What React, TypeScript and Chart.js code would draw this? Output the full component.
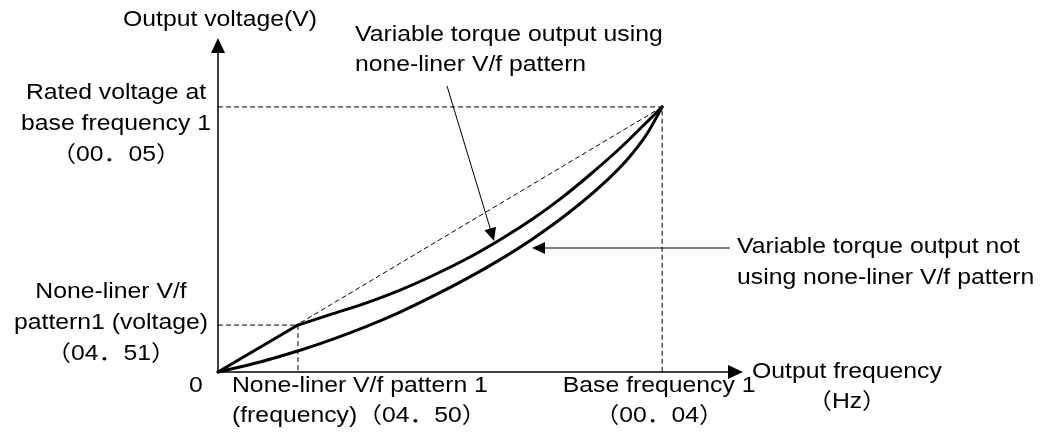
import React, { useEffect, useRef } from "react";
import { Chart, registerables } from "chart.js";

Chart.register(...registerables);

// Frequency (% of base frequency 1) and voltage (% of rated voltage)
const upperLinearFreq = [0, 18];
const upperLinearVolt = [0, 17.7];
const upperCurveFreq = [18, 25.9, 33.6, 41.0, 48.4, 56.1, 63.5, 70.9, 77.0, 83.8, 90.5, 95.7, 100];
const upperCurveVolt = [17.7, 22.0, 26.2, 30.9, 36.4, 42.8, 49.9, 57.8, 65.2, 74.5, 84.4, 92.9, 100];
const lowerFreq = [0, 9.5, 18.5, 25.9, 33.6, 41.0, 48.4, 56.1, 63.5, 70.9, 78.6, 86.0, 92.1, 96.6, 100];
const lowerVolt = [0, 3.8, 8.2, 12.4, 17.3, 22.6, 28.6, 35.3, 42.4, 50.3, 59.6, 69.9, 80.1, 89.9, 100];
const baseFreq = 100;
const ratedVolt = 100;
const nonlinearFreq = 18;
const nonlinearVolt = 17.7;
const xMax = 118.2;
const yMax = 126;

const yAxisTitle = "Output voltage(V)";
const xAxisTitle = ["Output frequency", "（Hz）"];
const ratedLabel = ["Rated voltage at", "base frequency 1", "（00．05）"];
const nlVoltLabel = ["None-liner V/f", "pattern1 (voltage)", "（04．51）"];
const nlFreqLabel = ["None-liner V/f pattern 1", "(frequency)（04．50）"];
const baseFreqLabel = ["Base frequency 1", "（00．04）"];
const originLabel = "0";
const usingLabel = ["Variable torque output using", "none-liner V/f pattern"];
const notUsingLabel = ["Variable torque output not", "using none-liner V/f pattern"];

const pts = (xs: number[], ys: number[]) => xs.map((x, i) => ({ x, y: ys[i] }));

const FONT = "22px 'Liberation Sans', Arial, 'Noto Sans CJK SC', sans-serif";
const SX = 1.125;

function drawText(ctx: CanvasRenderingContext2D, text: string, x: number, y: number, align: CanvasTextAlign) {
  ctx.save();
  ctx.translate(x, y);
  ctx.scale(SX, 1);
  ctx.textAlign = align;
  ctx.textBaseline = "alphabetic";
  ctx.fillText(text, 0, 0);
  ctx.restore();
}

function arrowHead(ctx: CanvasRenderingContext2D, tx: number, ty: number, fx: number, fy: number, len: number, half: number) {
  const dx = tx - fx, dy = ty - fy;
  const d = Math.hypot(dx, dy);
  const ux = dx / d, uy = dy / d;
  const bx = tx - ux * len, by = ty - uy * len;
  ctx.beginPath();
  ctx.moveTo(tx, ty);
  ctx.lineTo(bx - uy * half, by + ux * half);
  ctx.lineTo(bx + uy * half, by - ux * half);
  ctx.closePath();
  ctx.fill();
}

const decorPlugin = {
  id: "decor",
  afterDatasetsDraw(chart: any) {
    const ctx: CanvasRenderingContext2D = chart.ctx;
    const xs = chart.scales.x, ys = chart.scales.y;
    const ox = xs.getPixelForValue(0), oy = ys.getPixelForValue(0);
    const right = xs.getPixelForValue(xMax), top = ys.getPixelForValue(yMax);
    ctx.save();
    ctx.strokeStyle = "#000";
    ctx.fillStyle = "#000";
    ctx.setLineDash([]);
    // axes
    ctx.lineWidth = 1.5;
    ctx.beginPath();
    ctx.moveTo(ox, oy);
    ctx.lineTo(ox, top + 10);
    ctx.moveTo(ox, oy);
    ctx.lineTo(right - 10, oy);
    ctx.stroke();
    arrowHead(ctx, ox, top, ox, oy, 15, 7);
    arrowHead(ctx, right, oy, ox, oy, 15, 7);

    // annotation arrows
    const bx = xs.getPixelForValue(baseFreq);
    ctx.lineWidth = 1;
    // arrow to upper curve
    const t1x = 494, t1y = 241, s1x = 447, s1y = 86;
    ctx.beginPath();
    ctx.moveTo(s1x, s1y);
    ctx.lineTo(t1x - (t1x - s1x) * 0.05, t1y - (t1y - s1y) * 0.05);
    ctx.stroke();
    arrowHead(ctx, t1x, t1y, s1x, s1y, 13, 6);
    // arrow to lower curve
    const t2x = 532, t2y = 248, s2x = 730;
    ctx.beginPath();
    ctx.moveTo(s2x, t2y);
    ctx.lineTo(t2x + 8, t2y);
    ctx.stroke();
    arrowHead(ctx, t2x, t2y, s2x, t2y, 13, 6);

    // texts
    ctx.font = FONT;
    drawText(ctx, yAxisTitle, ox + 2, 26, "center");
    drawText(ctx, usingLabel[0], 355, 41, "left");
    drawText(ctx, usingLabel[1], 355, 71, "left");
    ratedLabel.forEach((t, i) => drawText(ctx, t, 116, 99 + i * 31, "center"));
    nlVoltLabel.forEach((t, i) => drawText(ctx, t, 111, 298 + i * 31, "center"));
    drawText(ctx, originLabel, ox - 22, 392, "center");
    nlFreqLabel.forEach((t, i) => drawText(ctx, t, 232, 392 + i * 30, "left"));
    baseFreqLabel.forEach((t, i) => drawText(ctx, t, bx - 3, 392 + i * 30, "center"));
    drawText(ctx, xAxisTitle[0], 752, 378, "left");
    drawText(ctx, xAxisTitle[1], 847, 408, "center");
    drawText(ctx, notUsingLabel[0], 737, 253, "left");
    drawText(ctx, notUsingLabel[1], 737, 284, "left");
    ctx.restore();
  },
};

export default function App() {
  const ref = useRef<HTMLCanvasElement>(null);
  useEffect(() => {
    if (!ref.current) return;
    const dashed = { borderColor: "#000", borderWidth: 1, borderDash: [5, 3], pointRadius: 0, tension: 0, clip: false as any };
    const solid = { borderColor: "#000", borderWidth: 3, pointRadius: 0, clip: false as any, borderCapStyle: "round" as any, borderJoinStyle: "round" as any };
    const chart = new Chart(ref.current, {
      type: "line",
      data: {
        datasets: [
          { ...dashed, data: pts([0, baseFreq], [0, ratedVolt]) },
          { ...dashed, data: pts([0, baseFreq, baseFreq], [ratedVolt, ratedVolt, 0]) },
          { ...dashed, data: pts([0, nonlinearFreq, nonlinearFreq], [nonlinearVolt, nonlinearVolt, 0]) },
          { ...solid, tension: 0, data: pts(upperLinearFreq, upperLinearVolt) },
          { ...solid, cubicInterpolationMode: "monotone", data: pts(upperCurveFreq, upperCurveVolt) },
          { ...solid, cubicInterpolationMode: "monotone", data: pts(lowerFreq, lowerVolt) },
        ] as any,
      },
      options: {
        animation: false,
        responsive: false,
        devicePixelRatio: 1,
        parsing: false as any,
        layout: { padding: { left: 218, right: 299, top: 38, bottom: 69 } },
        plugins: { legend: { display: false }, tooltip: { enabled: false } },
        scales: {
          x: { type: "linear", min: 0, max: xMax, display: false },
          y: { type: "linear", min: 0, max: yMax, display: false },
        },
        events: [],
      },
      plugins: [decorPlugin],
    });
    return () => chart.destroy();
  }, []);
  return (
    <div style={{ position: "fixed", left: 0, top: 0, width: 1042, height: 441, background: "#fff" }}>
      <canvas ref={ref} width={1042} height={441} style={{ display: "block" }} />
    </div>
  );
}
